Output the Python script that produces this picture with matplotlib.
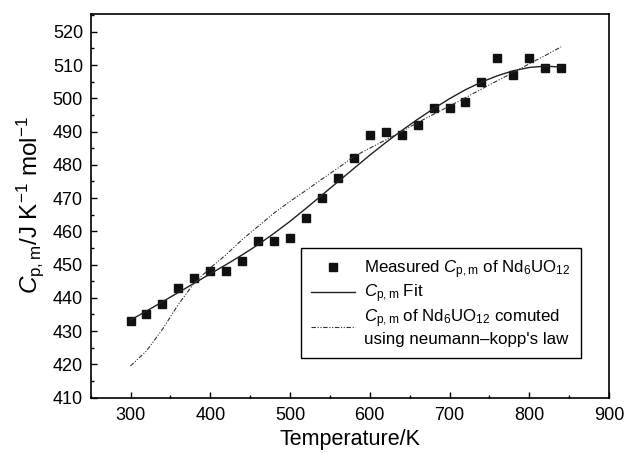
import matplotlib
matplotlib.use("Agg")
import matplotlib.pyplot as plt
from matplotlib.ticker import MultipleLocator

plt.rcParams['font.family'] = ['Liberation Sans', 'DejaVu Sans']
plt.rcParams['mathtext.fontset'] = 'custom'
plt.rcParams['mathtext.rm'] = 'Liberation Sans'
plt.rcParams['mathtext.it'] = 'Liberation Sans:italic'
plt.rcParams['mathtext.bf'] = 'Liberation Sans:bold'

temperature = [300, 320, 340, 360, 380, 400, 420, 440, 460, 480, 500, 520, 540, 560,
               580, 600, 620, 640, 660, 680, 700, 720, 740, 760, 780, 800, 820, 840]
measured = [433, 435, 438, 443, 446, 448, 448, 451, 457, 457, 458, 464, 470, 476,
            482, 489, 490, 489, 492, 497, 497, 499, 505, 512, 507, 512, 509, 509]
fit = [433.3, 436.0, 438.8, 441.6, 444.4, 447.2, 450.0, 452.9, 456.0, 459.4, 463.0,
       466.9, 470.9, 474.9, 478.9, 482.9, 486.7, 490.3, 493.7, 496.9, 499.9, 502.6,
       504.9, 506.8, 508.3, 509.3, 509.7, 509.4]
neumann_kopp = [419.5, 424, 430.5, 438, 444.5, 449, 453, 457.5, 461.5, 465.5, 469, 472.3,
                475.7, 479, 482.5, 485, 487.5, 490, 492.7, 495.2, 497.7, 500.2, 502.8,
                505.3, 507.8, 510.4, 512.9, 515.5]

fig = plt.figure(figsize=(6.25, 4.53), dpi=100)
ax = fig.add_axes([0.145, 0.1225, 0.8295, 0.8475])

ax.plot(temperature, measured, linestyle='none', marker='s', markersize=5.5,
        color='#111111', label=r"Measured $C_{\rm p,m}$ of Nd$_6$UO$_{12}$")
ax.plot(temperature, fit, color='#222222', lw=1.0, label=r"$C_{\rm p,m}$ Fit")
ax.plot(temperature, neumann_kopp, color='#333333', lw=0.8,
        dashes=(4, 1.5, 1, 1.5, 1, 1.5),
        label="$C_{\\rm p,m}$ of Nd$_6$UO$_{12}$ comuted\nusing neumann\u2013kopp's law")

ax.set_xlim(250, 900)
ax.set_ylim(410, 525.5)
ax.xaxis.set_major_locator(MultipleLocator(100))
ax.xaxis.set_minor_locator(MultipleLocator(50))
ax.yaxis.set_major_locator(MultipleLocator(10))
ax.yaxis.set_minor_locator(MultipleLocator(5))
ax.tick_params(which='both', direction='in', top=False, right=False, labelsize=13)
ax.tick_params(axis='x', which='both', pad=7)
ax.tick_params(axis='y', which='both', pad=5.5)
ax.tick_params(which='major', length=4, width=1)
ax.tick_params(which='minor', length=2.5, width=1)
for s in ax.spines.values():
    s.set_linewidth(1.2)

ax.set_xlabel("Temperature/K", fontsize=15.5, labelpad=3.5)
ax.set_ylabel(r"$C_{\rm p,m}$/J K$^{-1}$ mol$^{-1}$", fontsize=17.5, labelpad=5)

leg = ax.legend(loc='lower right', bbox_to_anchor=(0.945, 0.104), fontsize=12.2,
                frameon=True, fancybox=False, shadow=False, framealpha=1,
                edgecolor='black', handlelength=2.6, handletextpad=0.55,
                borderpad=0.6, labelspacing=0.12, borderaxespad=0)
leg.get_frame().set_linewidth(1.0)

fig.savefig("out.png", dpi=100)
